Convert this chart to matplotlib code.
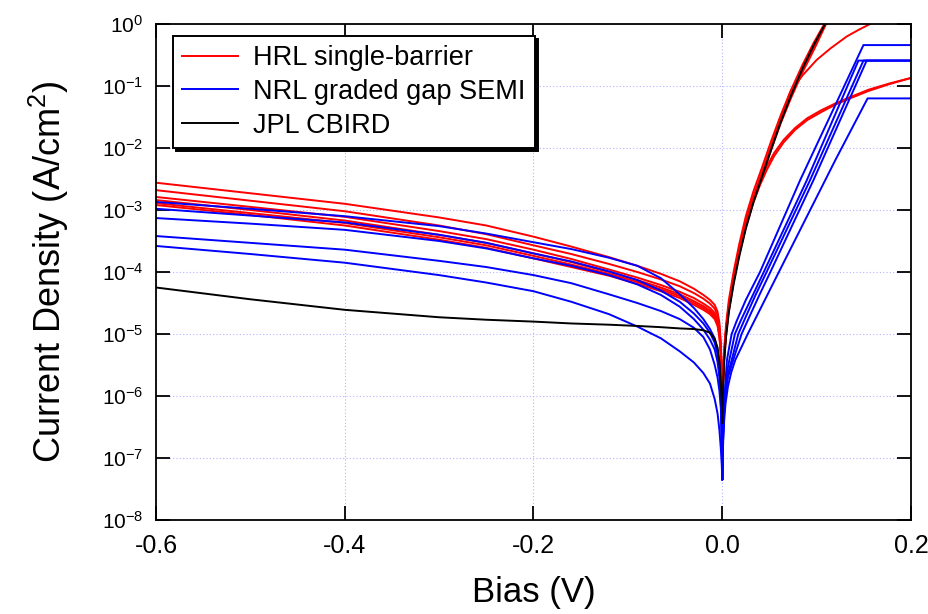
import numpy as np
import matplotlib
matplotlib.use('Agg')
import matplotlib.pyplot as plt
from matplotlib.ticker import LogLocator, LogFormatterMathtext, NullLocator, FormatStrFormatter

# reverse bias grid (V), shared by every curve
bias_neg = [-0.6, -0.5, -0.4, -0.3, -0.25, -0.2, -0.16, -0.12, -0.09, -0.065, -0.045,
            -0.03, -0.02, -0.013, -0.008, -0.005, -0.003, -0.0015, -0.0005, 0.0]

# log10 current density (A/cm^2) on the reverse side
hrl_neg = [
    [-2.56, -2.73, -2.90, -3.12, -3.25, -3.43, -3.59, -3.76, -3.90, -4.03, -4.15, -4.27, -4.37, -4.45, -4.53, -4.64, -4.82, -5.15, -5.65, -6.29],
    [-2.68, -2.85, -3.02, -3.25, -3.39, -3.57, -3.71, -3.87, -4.00, -4.12, -4.23, -4.34, -4.43, -4.51, -4.59, -4.70, -4.88, -5.20, -5.70, -6.30],
    [-2.79, -2.95, -3.11, -3.34, -3.47, -3.64, -3.79, -3.96, -4.09, -4.21, -4.32, -4.42, -4.51, -4.58, -4.66, -4.77, -4.95, -5.26, -5.74, -6.30],
    [-2.84, -3.00, -3.17, -3.40, -3.53, -3.70, -3.84, -4.00, -4.13, -4.25, -4.36, -4.47, -4.55, -4.62, -4.70, -4.81, -4.99, -5.30, -5.77, -6.30],
    [-2.89, -3.05, -3.21, -3.44, -3.57, -3.74, -3.88, -4.03, -4.16, -4.28, -4.39, -4.50, -4.58, -4.65, -4.73, -4.84, -5.02, -5.33, -5.80, -6.30],
    [-2.92, -3.08, -3.25, -3.48, -3.61, -3.78, -3.92, -4.06, -4.19, -4.31, -4.42, -4.53, -4.61, -4.68, -4.76, -4.87, -5.05, -5.36, -5.82, -6.30],
]
nrl_neg = [
    [-2.87, -2.98, -3.10, -3.26, -3.38, -3.52, -3.63, -3.77, -3.90, -4.10, -4.36, -4.58, -4.76, -4.92, -5.07, -5.25, -5.48, -5.85, -6.45, -7.35],
    [-2.98, -3.09, -3.20, -3.40, -3.53, -3.70, -3.83, -3.99, -4.13, -4.30, -4.48, -4.67, -4.83, -4.98, -5.14, -5.33, -5.57, -5.95, -6.55, -7.35],
    [-3.13, -3.22, -3.32, -3.50, -3.62, -3.78, -3.90, -4.05, -4.20, -4.37, -4.56, -4.76, -4.93, -5.09, -5.25, -5.45, -5.70, -6.08, -6.65, -7.35],
    [-3.42, -3.53, -3.64, -3.82, -3.92, -4.05, -4.18, -4.36, -4.50, -4.63, -4.76, -4.90, -5.05, -5.25, -5.50, -5.70, -5.92, -6.20, -6.70, -7.35],
    [-3.58, -3.71, -3.85, -4.05, -4.17, -4.31, -4.48, -4.68, -4.88, -5.07, -5.28, -5.46, -5.63, -5.80, -6.05, -6.28, -6.55, -6.85, -7.12, -7.35],
]
jpl_neg = [-4.25, -4.44, -4.61, -4.73, -4.77, -4.80, -4.83, -4.85, -4.87, -4.89, -4.91, -4.92, -4.94, -4.98, -5.08, -5.22, -5.45, -5.80, -6.15, -6.44]

# forward side, each curve has its own bias points
steep_bias = [0, 0.0005, 0.001, 0.002, 0.004, 0.007, 0.012, 0.018, 0.025, 0.033, 0.042, 0.052, 0.062, 0.073, 0.085, 0.097, 0.11]
medium_bias = [0, 0.0005, 0.001, 0.002, 0.004, 0.007, 0.012, 0.018, 0.025, 0.033, 0.042, 0.052, 0.062, 0.072, 0.085, 0.1, 0.115, 0.132, 0.145, 0.158]
soft_bias = [0, 0.0005, 0.001, 0.002, 0.004, 0.007, 0.012, 0.018, 0.025, 0.033, 0.04, 0.047, 0.055, 0.065, 0.077, 0.09, 0.105, 0.12, 0.137, 0.155, 0.177, 0.2]

hrl_pos_bias = [steep_bias, steep_bias, medium_bias, steep_bias, soft_bias, soft_bias]
hrl_pos = [
    [-6.29, -5.90, -5.60, -5.25, -4.85, -4.45, -4.00, -3.55, -3.10, -2.70, -2.32, -1.88, -1.47, -1.06, -0.66, -0.30, 0.05],
    [-6.30, -5.95, -5.68, -5.33, -4.93, -4.53, -4.08, -3.63, -3.19, -2.79, -2.41, -1.97, -1.55, -1.14, -0.73, -0.37, 0.02],
    [-6.30, -5.95, -5.68, -5.33, -4.93, -4.53, -4.08, -3.63, -3.19, -2.79, -2.41, -1.97, -1.50, -1.10, -0.83, -0.58, -0.39, -0.20, -0.09, 0.01],
    [-6.30, -6.00, -5.72, -5.38, -4.98, -4.58, -4.13, -3.68, -3.24, -2.84, -2.46, -2.02, -1.60, -1.19, -0.78, -0.42, 0.00],
    [-6.30, -6.00, -5.72, -5.38, -4.98, -4.58, -4.13, -3.68, -3.24, -2.84, -2.55, -2.30, -2.08, -1.87, -1.68, -1.52, -1.39, -1.28, -1.17, -1.06, -0.96, -0.87],
    [-6.30, -6.02, -5.75, -5.42, -5.02, -4.62, -4.17, -3.72, -3.28, -2.88, -2.60, -2.36, -2.13, -1.91, -1.71, -1.55, -1.42, -1.30, -1.19, -1.08, -0.97, -0.87],
]
nrl_pos_bias = [
    [0, 0.0005, 0.001, 0.002, 0.0035, 0.005, 0.0075, 0.01, 0.015, 0.025, 0.04, 0.0825, 0.1496, 0.2],
    [0, 0.0005, 0.001, 0.002, 0.0035, 0.005, 0.0075, 0.0134, 0.02, 0.03, 0.044, 0.0896, 0.1443, 0.2],
    [0, 0.0005, 0.001, 0.002, 0.0035, 0.006, 0.01, 0.017, 0.025, 0.035, 0.047, 0.093, 0.1496, 0.2],
    [0, 0.0005, 0.001, 0.002, 0.0035, 0.006, 0.0116, 0.0205, 0.03, 0.04, 0.051, 0.0966, 0.153, 0.2],
    [0, 0.0005, 0.001, 0.002, 0.0035, 0.006, 0.0095, 0.0138, 0.027, 0.06, 0.12, 0.154, 0.2],
]
nrl_pos = [
    [-7.35, -6.85, -6.50, -6.10, -5.75, -5.42, -5.20, -5.00, -4.80, -4.45, -4.00, -2.52, -0.34, -0.34],
    [-7.35, -6.90, -6.55, -6.18, -5.85, -5.62, -5.42, -5.00, -4.77, -4.45, -4.00, -2.52, -0.59, -0.59],
    [-7.35, -6.95, -6.60, -6.25, -5.92, -5.65, -5.42, -5.00, -4.72, -4.38, -4.00, -2.52, -0.59, -0.59],
    [-7.35, -6.95, -6.62, -6.28, -5.97, -5.70, -5.42, -5.00, -4.68, -4.35, -4.00, -2.52, -0.59, -0.59],
    [-7.35, -7.00, -6.72, -6.40, -6.12, -5.85, -5.62, -5.42, -5.00, -4.00, -2.19, -1.20, -1.20],
]
jpl_pos_bias = steep_bias
jpl_pos = [-6.44, -6.05, -5.80, -5.45, -5.05, -4.65, -4.20, -3.75, -3.30, -2.88, -2.47, -2.02, -1.58, -1.15, -0.72, -0.34, 0.03]

plt.rcParams['font.family'] = ['Liberation Sans', 'DejaVu Sans']
plt.rcParams['axes.unicode_minus'] = False
plt.rcParams['mathtext.default'] = 'regular'

fig = plt.figure(figsize=(9.29, 6.14), dpi=100)
ax = fig.add_axes([156 / 929, 94 / 614, 755 / 929, 496 / 614])


def draw(neg, pos_x, pos, color, label=None):
    xs = bias_neg + list(pos_x[1:])
    ys = 10 ** np.array(list(neg) + list(pos[1:]))
    ax.plot(xs, ys, color=color, lw=1.4, label=label, solid_joinstyle='round')


for i in range(len(hrl_neg)):
    draw(hrl_neg[i], hrl_pos_bias[i], hrl_pos[i], '#ff0000', 'HRL single-barrier' if i == 0 else None)
for i in range(len(nrl_neg)):
    draw(nrl_neg[i], nrl_pos_bias[i], nrl_pos[i], '#0000ff', 'NRL graded gap SEMI' if i == 0 else None)
draw(jpl_neg, jpl_pos_bias, jpl_pos, 'black', 'JPL CBIRD')

ax.set_yscale('log')
ax.set_xlim(-0.6, 0.2)
ax.set_ylim(1e-8, 1)
ax.set_xticks([-0.6, -0.4, -0.2, 0.0, 0.2])
ax.xaxis.set_major_formatter(FormatStrFormatter('%.1f'))
ax.yaxis.set_major_locator(LogLocator(base=10, numticks=20))
ax.yaxis.set_major_formatter(LogFormatterMathtext())
ax.yaxis.set_minor_locator(NullLocator())

ax.grid(True, which='major', color='#b4b4ff', linestyle=(0, (1, 2)), lw=0.8)
ax.tick_params(direction='in', length=10, width=1.3, top=True, right=True)
ax.tick_params(axis='x', labelsize=18, pad=10)
ax.tick_params(axis='y', labelsize=15, pad=9)
for s in ax.spines.values():
    s.set_linewidth(1.3)

ax.set_xlabel('Bias (V)', fontsize=25, labelpad=13)
ax.set_ylabel('Current Density (A/cm$^2$)', fontsize=26, labelpad=22)

leg = ax.legend(loc='upper left', bbox_to_anchor=(0.0225, 0.976), borderaxespad=0,
                fontsize=19.5, fancybox=False, framealpha=1, edgecolor='black',
                shadow={'color': 'black', 'alpha': 1}, handlelength=2.05,
                handletextpad=0.55, borderpad=0.35, labelspacing=0.28)
leg.get_frame().set_linewidth(1.4)

plt.savefig('out.png', dpi=100)
